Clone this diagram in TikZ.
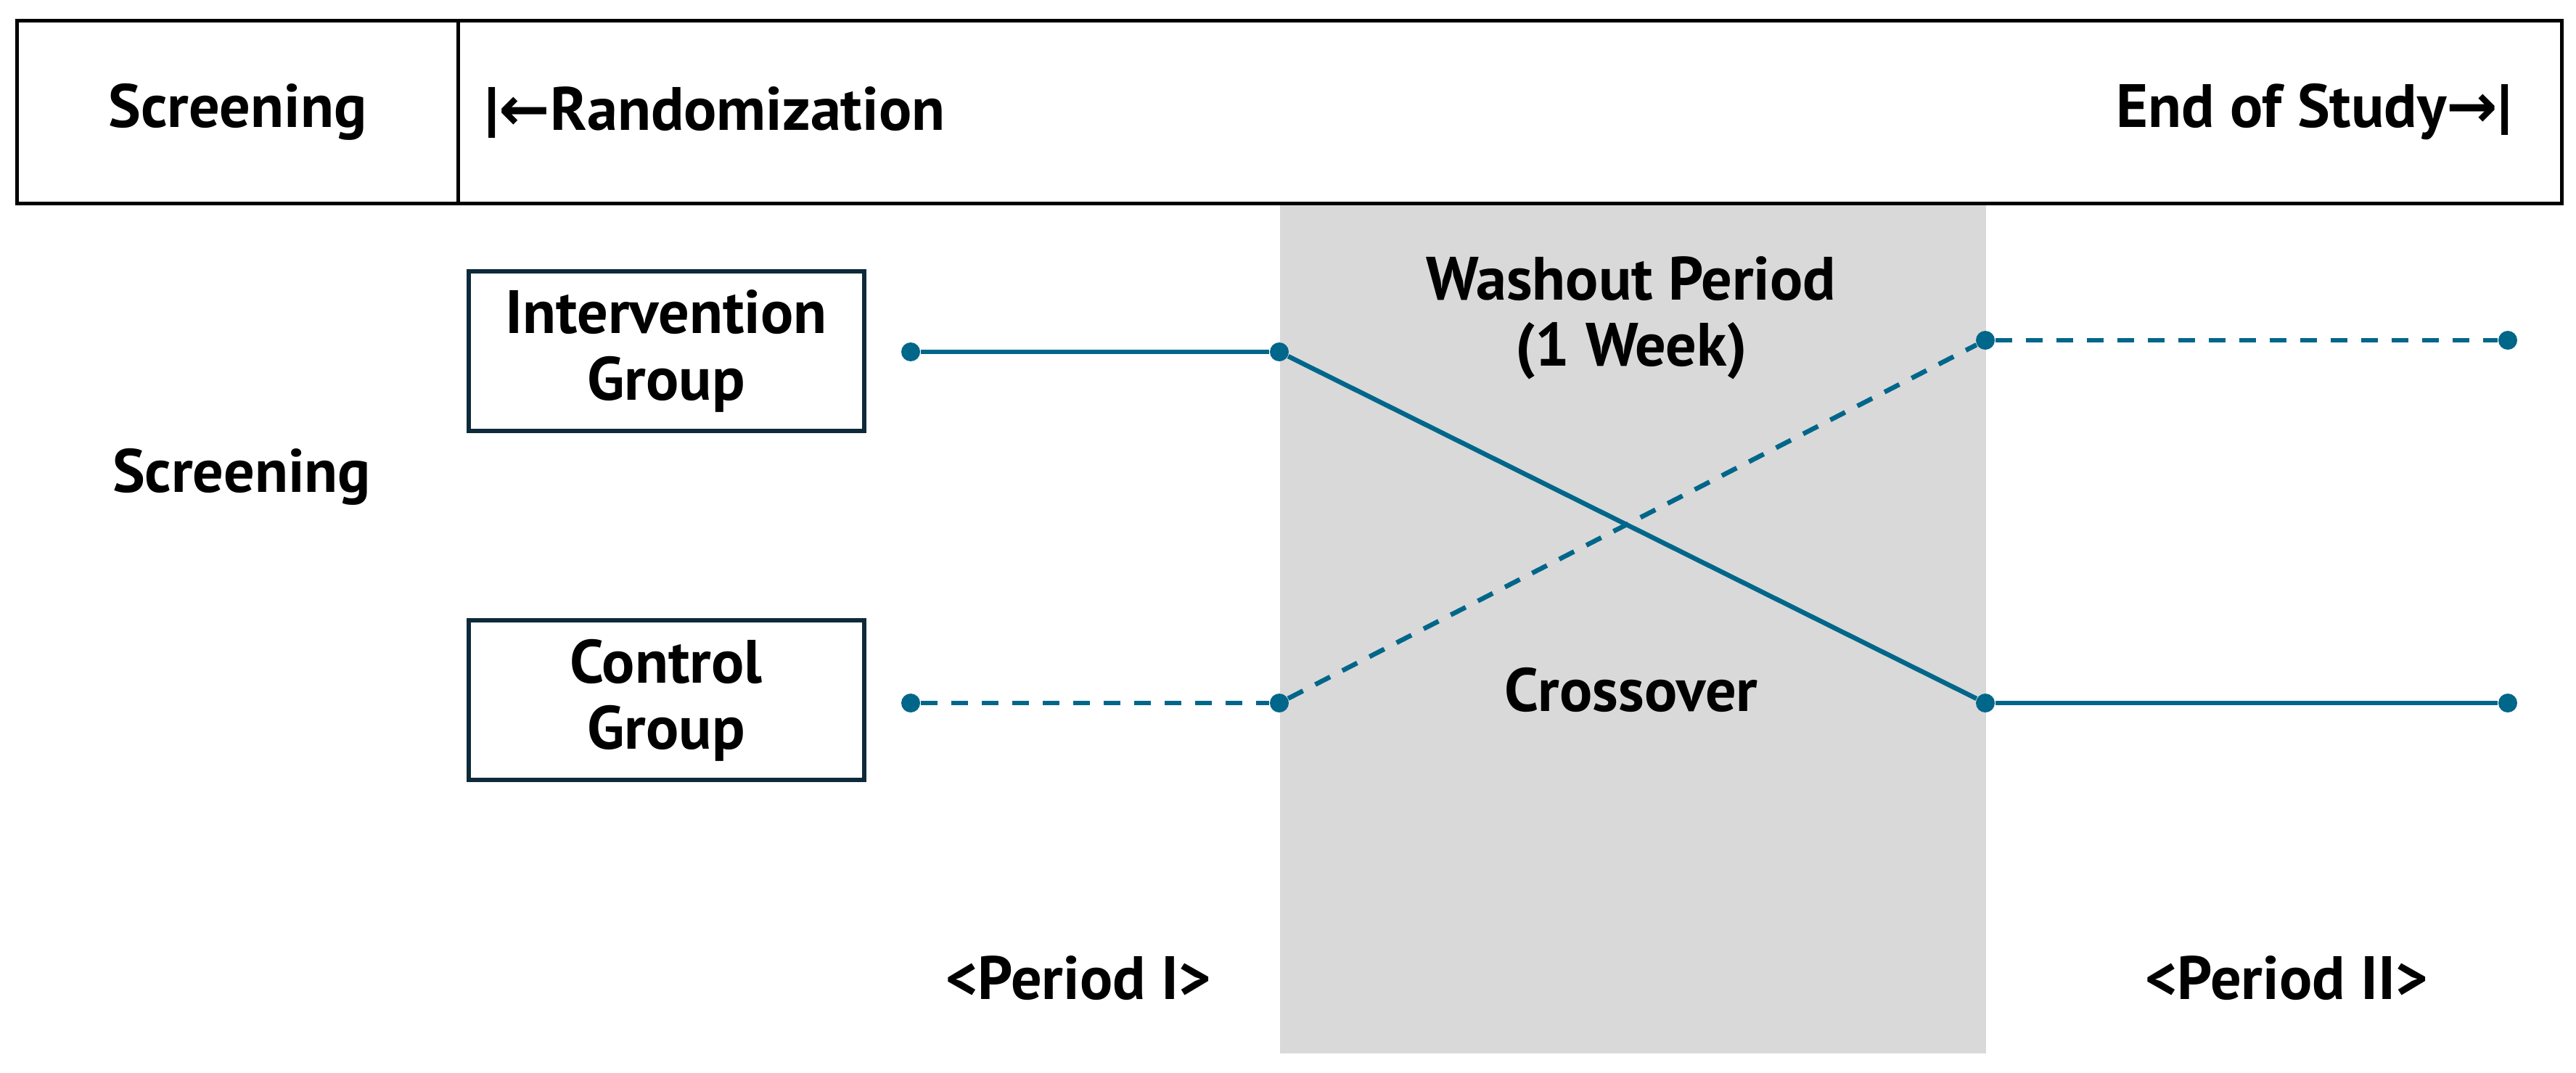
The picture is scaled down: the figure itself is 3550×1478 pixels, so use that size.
\documentclass[tikz,border=0pt]{standalone}
\usepackage{fontspec}
\setmainfont{PT Sans}
\newfontfamily\arrowfont{DejaVu Sans}
\usetikzlibrary{positioning}
\definecolor{armblue}{HTML}{00668A}
\definecolor{boxnavy}{HTML}{0E2A3A}
\definecolor{washgray}{HTML}{D9D9D9}

\begin{document}
\begin{tikzpicture}[x=0.1mm,y=-0.1mm,on grid,
	font=\fontsize{24}{26}\selectfont\bfseries,
	cell/.style={draw=black,line width=0.5mm,fill=white,inner sep=0,minimum height=25.2mm},
	group/.style={draw=boxnavy,line width=0.6mm,align=center,inner sep=0,minimum width=54.5mm,minimum height=22mm},
	dot/.style={circle,fill=armblue,inner sep=0,minimum size=2.6mm},
	arm/.style={draw=armblue,line width=0.65mm},
	armdash/.style={arm,dash pattern=on 2.3mm off 1.9mm}]
	\useasboundingbox (0,0) rectangle (3550,1478);
	
	\node[fill=washgray,inner sep=0,minimum width=97.3mm,minimum height=117.3mm,anchor=north west] (wash) at (1763,278) {};
	\node[cell,minimum width=60.8mm,anchor=north west] (cellscr) at (21,26) {Screening};
	\node[cell,minimum width=289.9mm,anchor=north west] (cellrnd) at (629,26) {};
	\node[anchor=west,inner sep=0] (rand) at ([xshift=3.9mm]cellrnd.west) {|{\arrowfont ←}Randomization};
	\node[anchor=east,inner sep=0] (eos) at ([xshift=-7.1mm]cellrnd.east) {End of Study{\arrowfont →}|};
	
	\node (scr) at (333,657) {Screening};
	\node[group] (intv) at (918,484) {Intervention\\Group};
	\node[group] (ctrl) [below=48.1mm of intv] {Control\\Group};
	\node[align=center] (washtxt) at (2248,438) {Washout Period\\(1 Week)};
	\node (cross) at (2248,951) {Crossover};
	\node (per1) at (1486,1348) {<Period I>};
	\node (per2) at (3151,1348) {<Period II>};
	
	\node[dot] (i0) at (1255,485) {};
	\node[dot] (i1) [right=50.8mm of i0] {};
	\node[dot] (i2) [below right=48.4mm and 97.3mm of i1] {};
	\node[dot] (i3) [right=72mm of i2] {};
	\node[dot] (c0) [below=48.4mm of i0] {};
	\node[dot] (c1) [right=50.8mm of c0] {};
	\node[dot] (c2) [above right=50mm and 97.3mm of c1] {};
	\node[dot] (c3) [right=72mm of c2] {};
	\path[arm]
	(i0) edge (i1)
	(i1) edge (i2)
	(i2) edge (i3);
	\path[armdash]
	(c0) edge (c1)
	(c1) edge (c2)
	(c2) edge (c3);
\end{tikzpicture}
\end{document}
